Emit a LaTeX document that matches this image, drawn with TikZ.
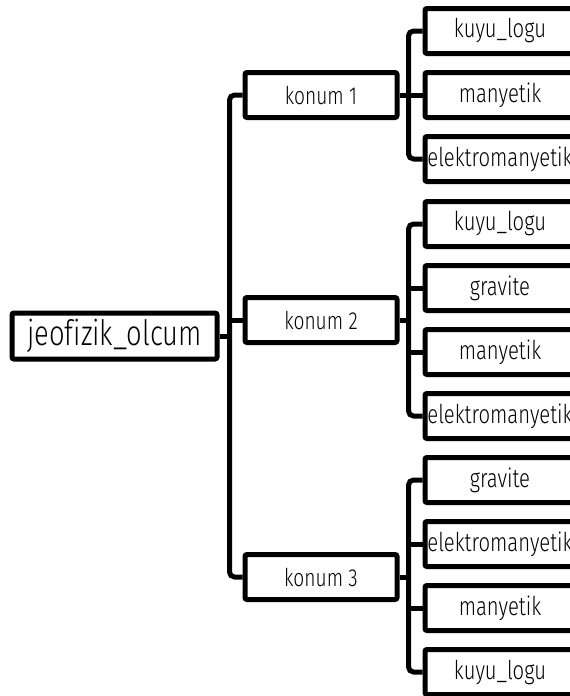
\documentclass[tikz,border=0pt]{standalone}
\usepackage{fontspec}
\setmainfont{Fira Sans Light}[FakeStretch=0.78,Ligatures=NoCommon]
\begin{document}
\begin{tikzpicture}[x=1pt,y=-1pt,
  box/.style={draw=black,line width=5pt,rounded corners=2pt,inner sep=0pt,align=center},
  leaf/.style={box,minimum width=150pt,minimum height=45pt,font=\fontsize{26}{28}\selectfont},
  mid/.style={box,minimum width=152pt,minimum height=45pt,font=\fontsize{24.6}{27}\selectfont},
  rootbox/.style={box,minimum width=205pt,minimum height=46pt,font=\fontsize{35}{38}\selectfont},
  conn/.style={line width=5pt,rounded corners=5pt}]
\useasboundingbox (0,0) rectangle (570,696);
\clip (0,0) rectangle (570,696);
\node[rootbox] (root) at (114.5,336) {jeofizik\_olcum};
\node[mid] (k1) at (321,95) {konum 1};
\node[mid] (k2) at (321,320) {konum 2};
\node[mid] (k3) at (321,577) {konum 3};
\node[leaf] (a1) at (500,31) {kuyu\_logu};
\node[leaf] (a2) at (500,95) {manyetik};
\node[leaf] (a3) at (500,159) {elektromanyetik};
\node[leaf] (b1) at (500,224) {kuyu\_logu};
\node[leaf] (b2) at (500,288) {gravite};
\node[leaf] (b3) at (500,352) {manyetik};
\node[leaf] (b4) at (500,416) {elektromanyetik};
\node[leaf] (c1) at (500,480) {gravite};
\node[leaf] (c2) at (500,544) {elektromanyetik};
\node[leaf] (c3) at (500,608) {manyetik};
\node[leaf] (c4) at (500,672) {kuyu\_logu};
% root to konum
\draw[conn] (k1.west) -- ++(-13,0) |- (k3.west);
\draw[conn] (k2.west) -- ++(-13,0);
\draw[conn] (root.east) -- ([xshift=-13pt]root.east -| k1.west);
% konum 1
\draw[conn] (a1.west) -- ++(-14,0) |- (a3.west);
\draw[conn] (a2.west) -- ++(-14,0);
\draw[conn] (k1.east) -- ([xshift=-14pt]k1.east -| a1.west);
% konum 2
\draw[conn] (b1.west) -- ++(-14,0) |- (b4.west);
\draw[conn] (b2.west) -- ++(-14,0);
\draw[conn] (b3.west) -- ++(-14,0);
\draw[conn] (k2.east) -- ([xshift=-14pt]k2.east -| b1.west);
% konum 3
\draw[conn] (c1.west) -- ++(-14,0) |- (c4.west);
\draw[conn] (c2.west) -- ++(-14,0);
\draw[conn] (c3.west) -- ++(-14,0);
\draw[conn] (k3.east) -- ([xshift=-14pt]k3.east -| c1.west);
\end{tikzpicture}
\end{document}
